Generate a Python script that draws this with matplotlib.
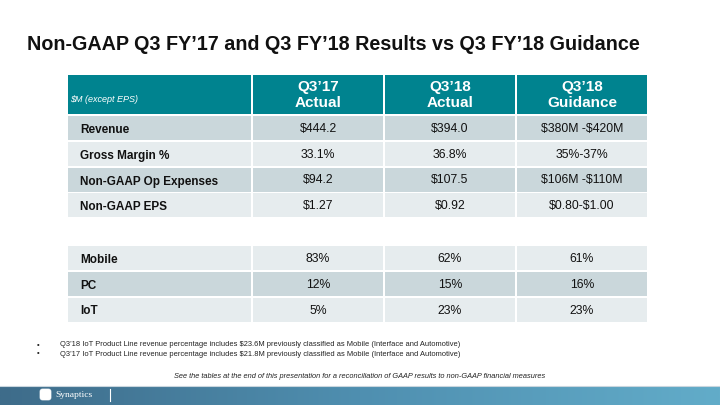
import numpy as np
import matplotlib.pyplot as plt
from matplotlib.patches import Rectangle, FancyBboxPatch
from matplotlib.colors import LinearSegmentedColormap

plt.rcParams['font.family'] = ['Liberation Sans', 'DejaVu Sans']

# Table data
title = "Non-GAAP Q3 FY\u201917 and Q3 FY\u201918 Results vs Q3 FY\u201918 Guidance"
unit_label = "$M (except EPS)"
col_headers = ["Q3\u201917\nActual", "Q3\u201918\nActual", "Q3\u201918\nGuidance"]

fin_rows = ["Revenue", "Gross Margin %", "Non-GAAP Op Expenses", "Non-GAAP EPS"]
fin_q317 = ["$444.2", "33.1%", "$94.2", "$1.27"]
fin_q318 = ["$394.0", "36.8%", "$107.5", "$0.92"]
fin_guid = ["$380M -$420M", "35%-37%", "$106M -$110M", "$0.80-$1.00"]

mix_rows = ["Mobile", "PC", "IoT"]
mix_q317 = ["83%", "12%", "5%"]
mix_q318 = ["62%", "15%", "23%"]
mix_guid = ["61%", "16%", "23%"]

notes = [
    "Q3\u201918 IoT Product Line revenue percentage includes $23.6M previously classified as Mobile (Interface and Automotive)",
    "Q3\u201917 IoT Product Line revenue percentage includes $21.8M previously classified as Mobile (Interface and Automotive)",
]
footer = "See the tables at the end of this presentation for a reconciliation of GAAP results to non-GAAP financial measures"

teal = "#00838f"
dark_row = "#cad7db"
light_row = "#e6ecee"
ink = "#111111"

fig = plt.figure(figsize=(7.2, 4.05), dpi=100)
ax = fig.add_axes([0, 0, 1, 1])
ax.set_xlim(0, 720)
ax.set_ylim(405, 0)
ax.axis("off")

ax.text(27, 45, title, fontsize=14.2, fontweight="bold", ha="left", va="center", color=ink)

# column geometry
col_x = [68, 253, 385, 517]
col_w = [183, 130, 130, 130]

# header
for x, w in zip(col_x, col_w):
    ax.add_patch(Rectangle((x, 75), w, 39, color=teal, lw=0))
ax.text(70, 100, unit_label, fontsize=6.5, style="italic", color="white", va="center",
        parse_math=False)
for x, w, h in zip(col_x[1:], col_w[1:], col_headers):
    ax.text(x + w / 2, 95, h, fontsize=11, fontweight="bold", color="white",
            ha="center", va="center", linespacing=1.1)


def draw_block(top, labels, cols, first_dark):
    step = 25.8
    for i, lab in enumerate(labels):
        y = top + i * step
        fill = dark_row if (i % 2 == 0) == first_dark else light_row
        for x, w in zip(col_x, col_w):
            ax.add_patch(Rectangle((x, y), w, step - 1.8, color=fill, lw=0))
        yc = y + step / 2 + 1
        ax.text(80, yc, lab, fontsize=8.5, fontweight="bold", va="center", color=ink)
        for x, w, vals in zip(col_x[1:], col_w[1:], cols):
            ax.text(x + w / 2, yc - 1, vals[i], fontsize=8.8, ha="center", va="center",
                    color=ink, parse_math=False)


draw_block(116, fin_rows, [fin_q317, fin_q318, fin_guid], True)
draw_block(246, mix_rows, [mix_q317, mix_q318, mix_guid], False)

for i, n in enumerate(notes):
    y = 345 + i * 9
    ax.text(37, y, "\u2022", fontsize=5.5, va="center", color="#222222")
    ax.text(60, y, n, fontsize=5.4, va="center", color="#222222", parse_math=False)

ax.text(360, 376, footer, fontsize=5.3, style="italic", ha="center", va="center",
        color="#222222")

# bottom bar gradient
cmap = LinearSegmentedColormap.from_list("bar", ["#3e6c8a", "#4f8fb0", "#62acc9"])
grad = np.linspace(0, 1, 256).reshape(1, -1)
ax.imshow(grad, cmap=cmap, extent=[0, 720, 405, 386], aspect="auto", zorder=0)
ax.plot([0, 720], [385.5, 385.5], color="#c9d6de", lw=0.8)
ax.set_xlim(0, 720)
ax.set_ylim(405, 0)
ax.add_patch(FancyBboxPatch((40, 389), 11, 11, boxstyle="round,pad=0,rounding_size=2.5",
                            fc="white", ec="white", lw=0.5))
ax.text(55, 395, "Synaptics", fontsize=6.8, family="Liberation Serif", color="white",
        va="center")
ax.plot([110, 110], [389, 401], color="white", lw=0.8)

fig.savefig("out.png", dpi=100)
